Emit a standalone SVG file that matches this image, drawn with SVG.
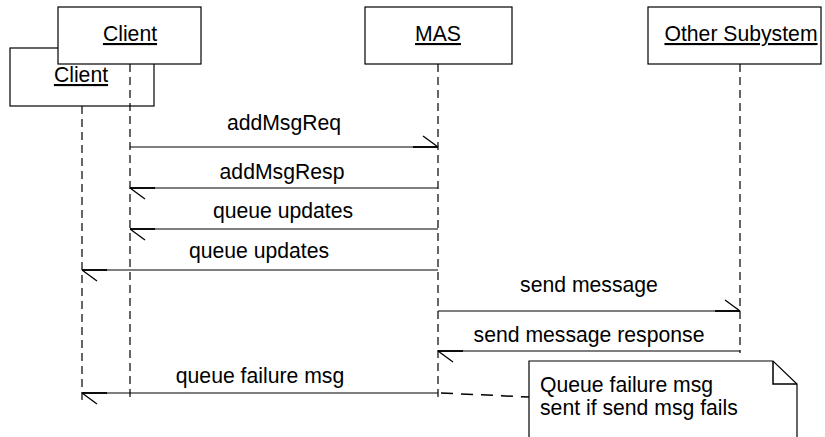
<svg xmlns="http://www.w3.org/2000/svg" width="825" height="437" viewBox="0 0 825 437">
  <defs>
    <style>
      .box { fill: #fff; stroke: #000; stroke-width: 1.2; }
      .life { fill: none; stroke: #000; stroke-width: 1.2; stroke-dasharray: 8 5; }
      .msg { fill: none; stroke: #000; stroke-width: 1.2; marker-end: url(#half); }
      .lbl { font-family: "Liberation Sans", Arial, sans-serif; font-size: 21.2px; fill: #000; text-anchor: middle; }
      .name { text-decoration: underline; }
      .note { fill: #fff; stroke: #000; stroke-width: 1.2; }
      .anchor { fill: none; stroke: #000; stroke-width: 1.5; stroke-dasharray: 12 8; }
      .ntext { font-family: "Liberation Sans", Arial, sans-serif; font-size: 21.2px; fill: #000; }
    </style>
    <!-- half-open arrowhead: thick shaft end plus a single barb -->
    <marker id="half" markerUnits="userSpaceOnUse" viewBox="-30 -15 32 30" refX="0" refY="0" markerWidth="32" markerHeight="30" orient="auto" overflow="visible">
      <path d="M-25 0 L0 0" stroke="#000" stroke-width="1.8" fill="none"/>
      <path d="M0 0 L-15 -11" stroke="#000" stroke-width="1.3" fill="none"/>
    </marker>
  </defs>

  <!-- second client instance (behind) -->
  <g id="client2">
    <rect class="box" x="10" y="48" width="144" height="58"/>
    <text class="lbl name" x="81" y="82">Client</text>
    <line class="life" x1="82" y1="106" x2="82" y2="401"/>
  </g>

  <!-- first client instance -->
  <g id="client1">
    <rect class="box" x="58" y="7" width="143" height="57"/>
    <text class="lbl name" x="130" y="41">Client</text>
    <line class="life" x1="130" y1="64" x2="130" y2="401"/>
  </g>

  <g id="mas">
    <rect class="box" x="365" y="7" width="147" height="57"/>
    <text class="lbl name" x="438" y="41">MAS</text>
    <line class="life" x1="438" y1="64" x2="438" y2="401"/>
  </g>

  <g id="other">
    <rect class="box" x="648" y="7" width="173" height="57"/>
    <text class="lbl name" x="741" y="41">Other Subystem</text>
    <line class="life" x1="740" y1="64" x2="740" y2="353"/>
  </g>

  <g id="messages">
    <line class="msg" x1="130" y1="147" x2="438" y2="147"/>
    <text class="lbl" x="284" y="130">addMsgReq</text>

    <line class="msg" x1="438" y1="188" x2="130" y2="188"/>
    <text class="lbl" x="282" y="179">addMsgResp</text>

    <line class="msg" x1="438" y1="229" x2="130" y2="229"/>
    <text class="lbl" x="283" y="218">queue updates</text>

    <line class="msg" x1="438" y1="270" x2="82" y2="270"/>
    <text class="lbl" x="259" y="258">queue updates</text>

    <line class="msg" x1="438" y1="311" x2="740" y2="311"/>
    <text class="lbl" x="589" y="292">send message</text>

    <line class="msg" x1="740" y1="351" x2="438" y2="351"/>
    <text class="lbl" x="589" y="342">send message response</text>

    <line class="msg" x1="438" y1="393" x2="82" y2="393"/>
    <text class="lbl" x="260" y="383">queue failure msg</text>

    <line class="anchor" x1="441" y1="393" x2="529" y2="397"/>
  </g>

  <g id="note">
    <path class="note" d="M529 361 L773 361 L797 384 L797 440 L529 440 Z"/>
    <path d="M773 361 L773 384 L797 384" fill="none" stroke="#000" stroke-width="1.5"/>
    <text class="ntext" x="540" y="392">Queue failure msg</text>
    <text class="ntext" x="540" y="415">sent if send msg fails</text>
  </g>
</svg>
